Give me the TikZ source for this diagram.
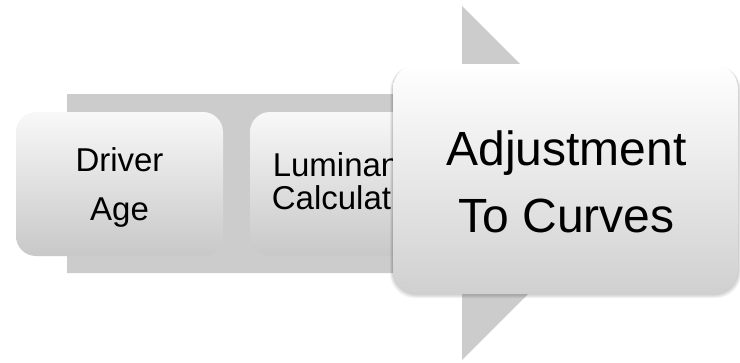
\documentclass[tikz,border=0pt]{standalone}
\usepackage{fontspec}
\setmainfont{Liberation Sans}
\definecolor{bandgray}{RGB}{204,204,204}
\definecolor{boxtop}{RGB}{248,248,248}
\definecolor{boxbot}{RGB}{200,200,200}
\definecolor{bigtop}{RGB}{255,255,255}
\definecolor{bigbot}{RGB}{208,208,208}
\begin{document}
\begin{tikzpicture}[x=1pt,y=-1pt,
  smallbox/.style={rectangle, rounded corners=20pt, minimum width=207pt, minimum height=144pt,
    inner sep=0pt, top color=boxtop, bottom color=boxbot, draw=none},
  bigbox/.style={rectangle, rounded corners=25pt, minimum width=345pt, minimum height=230pt,
    inner sep=0pt, top color=bigtop, bottom color=bigbot, draw=none},
  lbl/.style={inner sep=0pt, align=center, text=black}]
\useasboundingbox (0,0) rectangle (740,362);
% background arrow
\fill[bandgray] (67,94) -- (462,94) -- (462,6) -- (639,183) -- (462,360) -- (462,273) -- (67,273) -- cycle;
% small boxes
\node[smallbox] (driver) at (119.5,184) {};
\node[lbl, font=\fontsize{33}{49}\selectfont] (drivertxt) at (119.5,187) {Driver\\Age};
\node[smallbox] (lumin) at (353.5,184) {};
\node[lbl, font=\fontsize{33}{33}\selectfont, text width=170pt] (lumintxt) at (353.5,181.7) {Luminance\\Calculation};
% shadow of the big box
\foreach \i in {1,...,6}
  \fill[black, opacity=0.035, rounded corners=25pt]
    (393-0.5*\i, 64+1.5) rectangle (738+0.5*\i, 294+0.7*\i);
% big box
\node[bigbox] (adjust) at (565.5,179) {};
\node[lbl, font=\fontsize{48}{67}\selectfont] (adjusttxt) at (566.5,181.6) {Adjustment\\To Curves};
\end{tikzpicture}
\end{document}
